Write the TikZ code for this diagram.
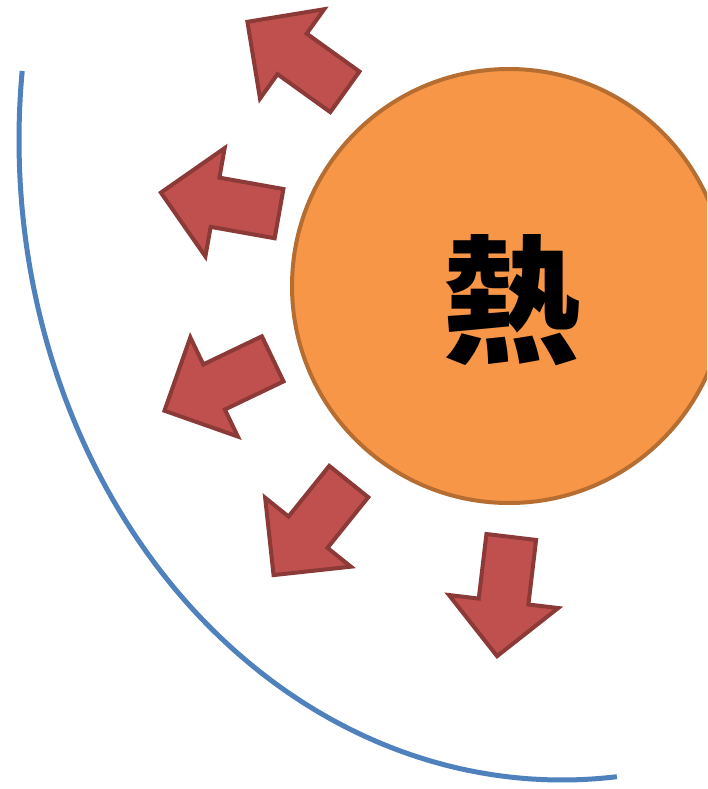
\documentclass[tikz,border=0pt]{standalone}
\usepackage{fontspec}
\newfontfamily\cjkfont{Noto Sans CJK TC}
\definecolor{arrowfill}{HTML}{C0504D}
\definecolor{arrowline}{HTML}{8C3A37}
\definecolor{sunfill}{HTML}{F79646}
\definecolor{sunline}{HTML}{B66D31}
\definecolor{arcblue}{HTML}{4F81BD}
\begin{document}
\begin{tikzpicture}[x=1pt,y=-1pt,
  arrowstyle/.style={fill=arrowfill,draw=arrowline,line width=4pt,line join=miter},
  heatarrow/.pic={\draw[arrowstyle] (2,-25) -- (67,-25) -- (67,-55) -- (122,0) -- (67,55) -- (67,25) -- (2,25) -- cycle;},
  sunstyle/.style={circle,fill=sunfill,draw=sunline,line width=4pt,minimum size=434pt,inner sep=0pt},
  arcstyle/.style={draw=arcblue,line width=5pt}]
\clip (0,0) rectangle (707,789);
\fill[white] (0,0) rectangle (707,789);
% blue arc
\draw[arcstyle] plot[domain=186.2:84.2,samples=160,smooth] ({562+543*cos(\x)},{140+640*sin(\x)});
% arrows
\pic[rotate=144.3] (a1) at (346.5,93) {heatarrow};
\pic[rotate=169.9] (a2) at (281,214) {heatarrow};
\pic[rotate=205.6] (a3) at (274.5,358) {heatarrow};
\pic[rotate=231.2] (a4) at (350,480) {heatarrow};
\pic[rotate=263.2] (a5) at (511.5,535) {heatarrow};
% sun
\node[sunstyle] (sun) at (509,286) {};
\node (heat) at (511,300) {\cjkfont\bfseries\fontsize{138}{138}\selectfont 熱};
\end{tikzpicture}
\end{document}
